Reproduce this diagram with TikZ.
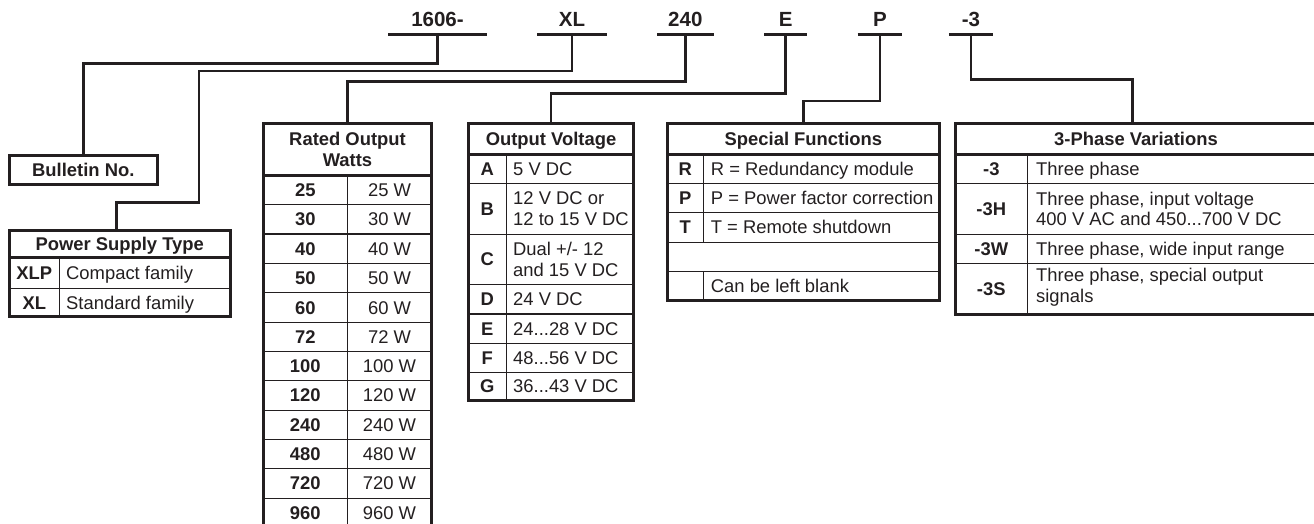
\documentclass[tikz,border=0pt]{standalone}
\usepackage{fontspec}
\setmainfont{Liberation Sans}
\definecolor{ink}{RGB}{35,31,32}
\begin{document}
\begin{tikzpicture}[x=1pt, y=-1pt, color=ink,
        txt/.style={inner sep=0pt, font=\fontsize{18.4}{20.5}\selectfont},
        one/.style={text height=13.2pt, text depth=0pt},
        hd/.style={txt, one, font=\fontsize{18.4}{20.5}\selectfont\bfseries},
        cellc/.style={txt, one},
        val/.style={txt, one, anchor=west},
        valtwo/.style={txt, align=left, anchor=west},
        codelab/.style={font=\fontsize{20.5}{24}\selectfont\bfseries, text height=14.7pt, text depth=0pt,
                        inner xsep=0pt, inner ysep=7.6pt, anchor=south, minimum width=#1},
        underbar/.style={line width=2.7pt},
        linkline/.style={line width=2.7pt},
        tblbox/.style={draw, line width=3pt, inner sep=0pt, outer sep=0pt, anchor=north west},
        rowrule/.style={line width=1.1pt},
        headrule/.style={line width=3pt}]
    \useasboundingbox (0,0) rectangle (1314,523);

    % catalog number
    \node[codelab=98.4] (k1606) at (437.5,34.3) {1606-};
    \node[codelab=69.4] (kxl) at (572,34.3) {XL};
    \node[codelab=56] (k240) at (685.3,34.3) {240};
    \node[codelab=42.5] (ke) at (785.7,34.3) {E};
    \node[codelab=44.5] (kp) at (880,34.3) {P};
    \node[codelab=43.7] (kph) at (971,34.3) {-3};
    \draw[underbar] (k1606.south west) -- (k1606.south east);
    \draw[underbar] (kxl.south west) -- (kxl.south east);
    \draw[underbar] (k240.south west) -- (k240.south east);
    \draw[underbar] (ke.south west) -- (ke.south east);
    \draw[underbar] (kp.south west) -- (kp.south east);
    \draw[underbar] (kph.south west) -- (kph.south east);

    % boxes
    \node[tblbox, minimum width=148, minimum height=29, font=\fontsize{18.4}{20.5}\selectfont\bfseries, one] (bulletin) at (9.3,155) {Bulletin No.};
    \node[tblbox, minimum width=220.7, minimum height=86.7] (pst) at (9.3,230) {};
    \node[tblbox, minimum width=168.4, minimum height=405] (rated) at (263.3,123.8) {};
    \node[tblbox, minimum width=165.2, minimum height=276.2] (volt) at (468.3,123.8) {};
    \node[tblbox, minimum width=272.2, minimum height=176.9] (spec) at (667.3,123.8) {};
    \node[tblbox, minimum width=362, minimum height=190.2] (phase) at (955,123.8) {};

    % connectors
    \coordinate (xlbend) at (199,202.3);
    \draw[linkline] (k1606.south) -- (k1606.south |- 0,63.3) -| (bulletin.north);
    \draw[linkline] (kxl.south) -- (kxl.south |- 0,71) -| (xlbend) -| ([xshift=-3pt]pst.north);
    \draw[linkline] (k240.south) -- (k240.south |- 0,81.7) -| (rated.north);
    \draw[linkline] (ke.south) -- (ke.south |- 0,93.3) -| (volt.north);
    \draw[linkline] (kp.south) -- (kp.south |- 0,101) -| (spec.north);
    \draw[linkline] (kph.south) -- (kph.south |- 0,79.3) -| ([xshift=-3.7pt]phase.north);

    % power supply type
    \draw[headrule] (9.3,257.3) -- (230,257.3);
    \draw[rowrule] (9.3,288.3) -- (230,288.3) (59.3,257.3) -- (59.3,316.7);
    \node[hd] (psthead) at (119.7,243.6) {Power Supply Type};
    \node[hd] (xlpkey) at (34.3,272.8) {XLP};
    \node[val] (xlpval) at (66,272.8) {Compact family};
    \node[hd] (xlkey) at (34.3,302.5) {XL};
    \node[val] (xlval) at (66,302.5) {Standard family};

    % rated output watts
    \draw[headrule] (263.3,175.7) -- (431.7,175.7);
    \draw[rowrule] (347.3,175.7) -- (347.3,529);
    \draw[rowrule] (263.3,204.3) -- (431.7,204.3) (263.3,234) -- (431.7,234)
        (263.3,263.3) -- (431.7,263.3) (263.3,292.7) -- (431.7,292.7)
        (263.3,322.3) -- (431.7,322.3) (263.3,351.3) -- (431.7,351.3)
        (263.3,380.3) -- (431.7,380.3) (263.3,410.3) -- (431.7,410.3)
        (263.3,439.3) -- (431.7,439.3) (263.3,468.3) -- (431.7,468.3)
        (263.3,498.3) -- (431.7,498.3);
    \node[txt, align=center, font=\fontsize{18.4}{21.5}\selectfont\bfseries] (ratedhead) at (347.5,149.3) {Rated Output\\Watts};
    \node[hd] (w25k) at (305.3,190) {25};     \node[cellc] (w25v) at (389.5,190) {25 W};
    \node[hd] (w30k) at (305.3,219.2) {30};   \node[cellc] (w30v) at (389.5,219.2) {30 W};
    \node[hd] (w40k) at (305.3,248.7) {40};   \node[cellc] (w40v) at (389.5,248.7) {40 W};
    \node[hd] (w50k) at (305.3,278) {50};     \node[cellc] (w50v) at (389.5,278) {50 W};
    \node[hd] (w60k) at (305.3,307.5) {60};   \node[cellc] (w60v) at (389.5,307.5) {60 W};
    \node[hd] (w72k) at (305.3,336.8) {72};   \node[cellc] (w72v) at (389.5,336.8) {72 W};
    \node[hd] (w100k) at (305.3,365.8) {100}; \node[cellc] (w100v) at (389.5,365.8) {100 W};
    \node[hd] (w120k) at (305.3,395.3) {120}; \node[cellc] (w120v) at (389.5,395.3) {120 W};
    \node[hd] (w240k) at (305.3,424.8) {240}; \node[cellc] (w240v) at (389.5,424.8) {240 W};
    \node[hd] (w480k) at (305.3,453.8) {480}; \node[cellc] (w480v) at (389.5,453.8) {480 W};
    \node[hd] (w720k) at (305.3,483.3) {720}; \node[cellc] (w720v) at (389.5,483.3) {720 W};
    \node[hd] (w960k) at (305.3,513) {960};   \node[cellc] (w960v) at (389.5,513) {960 W};

    % output voltage
    \draw[headrule] (468.3,154) -- (633.5,154);
    \draw[rowrule] (506.3,154) -- (506.3,400) (468.3,183.3) -- (633.5,183.3)
        (468.3,234.3) -- (633.5,234.3) (468.3,284.3) -- (633.5,284.3)
        (468.3,314) -- (633.5,314) (468.3,343.3) -- (633.5,343.3)
        (468.3,372.3) -- (633.5,372.3);
    \node[hd] (volthead) at (551,139) {Output Voltage};
    \node[hd] (vak) at (487.3,168.7) {A}; \node[val] (vav) at (513,168.7) {5 V DC};
    \node[hd] (vbk) at (487.3,208.8) {B}; \node[valtwo] (vbv) at (513,208.8) {12 V DC or\\12 to 15 V DC};
    \node[hd] (vck) at (487.3,259.3) {C}; \node[valtwo] (vcv) at (513,259.3) {Dual +/- 12\\and 15 V DC};
    \node[hd] (vdk) at (487.3,299.2) {D}; \node[val] (vdv) at (513,299.2) {24 V DC};
    \node[hd] (vek) at (487.3,328.7) {E}; \node[val] (vev) at (513,328.7) {24...28 V DC};
    \node[hd] (vfk) at (487.3,357.8) {F}; \node[val] (vfv) at (513,357.8) {48...56 V DC};
    \node[hd] (vgk) at (487.3,386.2) {G}; \node[val] (vgv) at (513,386.2) {36...43 V DC};

    % special functions
    \draw[headrule] (667.3,154) -- (939.5,154);
    \draw[rowrule] (703.3,154) -- (703.3,242.3) (703.3,271.7) -- (703.3,300.7)
        (667.3,183.3) -- (939.5,183.3) (667.3,212.3) -- (939.5,212.3)
        (667.3,242.3) -- (939.5,242.3) (667.3,271.7) -- (939.5,271.7);
    \node[hd] (spechead) at (803.4,139) {Special Functions};
    \node[hd] (srk) at (685.3,168.7) {R}; \node[val] (srv) at (710.7,168.7) {R = Redundancy module};
    \node[hd] (spk) at (685.3,197.8) {P}; \node[val] (spv) at (710.7,197.8) {P = Power factor correction};
    \node[hd] (stk) at (685.3,227.3) {T}; \node[val] (stv) at (710.7,227.3) {T = Remote shutdown};
    \node[val] (sblank) at (710.7,286.2) {Can be left blank};

    % 3-phase variations
    \draw[headrule] (955,154) -- (1317,154);
    \draw[rowrule] (1027.7,154) -- (1027.7,314) (955,183.3) -- (1317,183.3)
        (955,234.7) -- (1317,234.7) (955,263.3) -- (1317,263.3);
    \node[hd] (phasehead) at (1136,139) {3-Phase Variations};
    \node[hd] (p3k) at (991.3,168.7) {-3};   \node[val] (p3v) at (1036,168.7) {Three phase};
    \node[hd] (p3hk) at (991.3,209) {-3H};   \node[valtwo] (p3hv) at (1036,209) {Three phase, input voltage\\400 V AC and 450...700 V DC};
    \node[hd] (p3wk) at (991.3,249) {-3W};   \node[val] (p3wv) at (1036,249) {Three phase, wide input range};
    \node[hd] (p3sk) at (991.3,288.7) {-3S}; \node[valtwo] (p3sv) at (1036,287) {Three phase, special output\\signals};
\end{tikzpicture}
\end{document}
